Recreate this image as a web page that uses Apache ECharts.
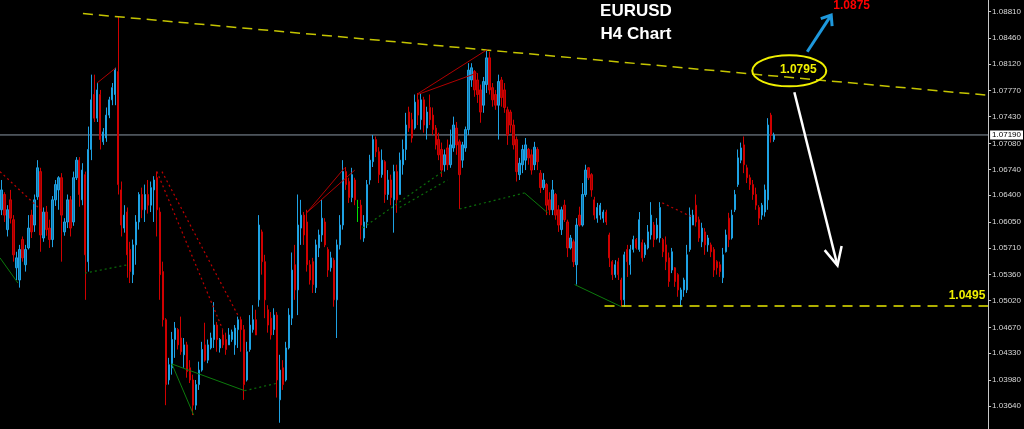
<!DOCTYPE html>
<html><head><meta charset="utf-8">
<script src="https://cdn.jsdelivr.net/npm/echarts@6/dist/echarts.min.js"></script>
<style>html,body{margin:0;padding:0;background:#000;}#c{width:1024px;height:429px;}</style>
</head><body><div id="c"></div>
<script>
// ---------- data ----------
const slotCount = 330;               // bar slots across the plot (incl. empty right margin)
const priceMin = 1.03338, priceMax = 1.08958;
const tickValues = [1.08810,1.08460,1.08120,1.07770,1.07430,1.07080,1.06740,1.06400,1.06050,1.05710,1.05360,1.05020,1.04670,1.04330,1.03980,1.03640];
const bidPrice = 1.07190;
const supportPrice = 1.0495;
const supportLabel = '1.0495';
const resistLabel = '1.0795';
const targetLabel = '1.0875';
const titleLines = ['EURUSD', 'H4 Chart'];
// [open, close, low, high]
const candles = [
[1.0621,1.0647,1.0614,1.0660],[1.0641,1.0614,1.0605,1.0644],[1.0595,1.0621,1.0586,1.0627],[1.0634,1.0610,1.0603,1.0647],
[1.0608,1.0562,1.0553,1.0614],[1.0545,1.0558,1.0529,1.0566],[1.0529,1.0569,1.0519,1.0575],[1.0582,1.0558,1.0553,1.0586],
[1.0549,1.0569,1.0540,1.0575],[1.0571,1.0597,1.0569,1.0614],[1.0614,1.0592,1.0584,1.0621],[1.0601,1.0634,1.0592,1.0641],
[1.0638,1.0676,1.0634,1.0686],[1.0671,1.0588,1.0566,1.0676],[1.0584,1.0618,1.0579,1.0624],[1.0618,1.0595,1.0587,1.0626],
[1.0597,1.0582,1.0571,1.0608],[1.0582,1.0634,1.0572,1.0639],[1.0634,1.0654,1.0626,1.0660],[1.0647,1.0663,1.0621,1.0665],
[1.0663,1.0614,1.0553,1.0669],[1.0592,1.0605,1.0587,1.0610],[1.0605,1.0634,1.0597,1.0641],[1.0634,1.0597,1.0586,1.0639],
[1.0605,1.0663,1.0600,1.0671],[1.0663,1.0686,1.0660,1.0690],[1.0686,1.0641,1.0625,1.0690],[1.0634,1.0673,1.0627,1.0682],
[1.0667,1.0562,1.0503,1.0671],[1.0553,1.0700,1.0540,1.0730],[1.0700,1.0765,1.0686,1.0798],[1.0772,1.0741,1.0736,1.0798],
[1.0741,1.0778,1.0736,1.0787],[1.0772,1.0713,1.0700,1.0778],[1.0710,1.0723,1.0706,1.0728],[1.0715,1.0745,1.0710,1.0755],
[1.0745,1.0765,1.0741,1.0769],[1.0765,1.0781,1.0758,1.0787],[1.0772,1.0804,1.0758,1.0807],[1.0802,1.0654,1.0641,1.0874],
[1.0647,1.0601,1.0586,1.0658],[1.0597,1.0614,1.0591,1.0627],[1.0618,1.0562,1.0532,1.0624],[1.0569,1.0540,1.0525,1.0579],
[1.0536,1.0575,1.0525,1.0582],[1.0575,1.0605,1.0549,1.0614],[1.0605,1.0641,1.0595,1.0644],[1.0641,1.0621,1.0610,1.0650],
[1.0621,1.0641,1.0605,1.0654],[1.0641,1.0627,1.0616,1.0660],[1.0627,1.0650,1.0618,1.0658],[1.0647,1.0660,1.0605,1.0665],
[1.0663,1.0621,1.0586,1.0671],[1.0618,1.0536,1.0503,1.0624],[1.0540,1.0477,1.0468,1.0553],[1.0477,1.0392,1.0365,1.0479],
[1.0398,1.0418,1.0392,1.0427],[1.0414,1.0451,1.0405,1.0461],[1.0451,1.0466,1.0427,1.0474],[1.0464,1.0444,1.0438,1.0466],
[1.0453,1.0435,1.0431,1.0481],[1.0431,1.0444,1.0414,1.0453],[1.0444,1.0409,1.0401,1.0448],[1.0414,1.0398,1.0394,1.0424],
[1.0398,1.0365,1.0352,1.0405],[1.0365,1.0392,1.0359,1.0398],[1.0392,1.0411,1.0385,1.0422],[1.0411,1.0438,1.0409,1.0448],
[1.0444,1.0424,1.0422,1.0473],[1.0424,1.0444,1.0420,1.0451],[1.0440,1.0453,1.0438,1.0460],[1.0451,1.0470,1.0440,1.0500],
[1.0470,1.0451,1.0435,1.0474],[1.0440,1.0451,1.0434,1.0453],[1.0457,1.0444,1.0440,1.0464],[1.0451,1.0438,1.0431,1.0460],
[1.0444,1.0457,1.0444,1.0466],[1.0451,1.0461,1.0448,1.0464],[1.0444,1.0466,1.0431,1.0470],[1.0464,1.0477,1.0440,1.0481],
[1.0477,1.0464,1.0435,1.0481],[1.0464,1.0392,1.0372,1.0470],[1.0398,1.0435,1.0396,1.0448],[1.0438,1.0470,1.0435,1.0483],
[1.0464,1.0477,1.0460,1.0496],[1.0477,1.0457,1.0457,1.0490],[1.0503,1.0601,1.0494,1.0614],[1.0592,1.0553,1.0536,1.0595],
[1.0553,1.0503,1.0479,1.0562],[1.0490,1.0470,1.0460,1.0496],[1.0479,1.0457,1.0451,1.0487],[1.0464,1.0483,1.0457,1.0492],
[1.0483,1.0398,1.0375,1.0487],[1.0372,1.0411,1.0342,1.0431],[1.0414,1.0392,1.0385,1.0424],[1.0398,1.0440,1.0396,1.0448],
[1.0440,1.0483,1.0438,1.0492],[1.0479,1.0542,1.0470,1.0565],[1.0549,1.0516,1.0503,1.0575],[1.0516,1.0601,1.0483,1.0641],
[1.0597,1.0614,1.0575,1.0634],[1.0614,1.0588,1.0575,1.0618],[1.0605,1.0549,1.0540,1.0621],[1.0549,1.0529,1.0523,1.0555],
[1.0553,1.0523,1.0512,1.0558],[1.0519,1.0575,1.0512,1.0582],[1.0571,1.0588,1.0559,1.0595],[1.0588,1.0610,1.0579,1.0634],
[1.0605,1.0575,1.0572,1.0610],[1.0569,1.0542,1.0533,1.0572],[1.0545,1.0558,1.0540,1.0566],[1.0555,1.0503,1.0494,1.0558],
[1.0503,1.0575,1.0453,1.0582],[1.0575,1.0601,1.0569,1.0614],[1.0601,1.0671,1.0595,1.0686],[1.0671,1.0654,1.0647,1.0677],
[1.0658,1.0637,1.0630,1.0663],[1.0637,1.0667,1.0631,1.0676],[1.0660,1.0634,1.0627,1.0663],[1.0624,1.0624,1.0605,1.0634],
[1.0627,1.0601,1.0582,1.0634],[1.0584,1.0605,1.0579,1.0614],[1.0605,1.0654,1.0597,1.0660],[1.0660,1.0686,1.0654,1.0693],
[1.0684,1.0713,1.0677,1.0719],[1.0713,1.0697,1.0690,1.0717],[1.0697,1.0667,1.0656,1.0703],[1.0667,1.0686,1.0663,1.0700],
[1.0684,1.0641,1.0630,1.0686],[1.0641,1.0660,1.0634,1.0673],[1.0660,1.0637,1.0627,1.0667],[1.0634,1.0671,1.0591,1.0680],
[1.0671,1.0634,1.0617,1.0680],[1.0641,1.0686,1.0641,1.0696],[1.0680,1.0700,1.0667,1.0713],[1.0700,1.0732,1.0686,1.0748],
[1.0749,1.0728,1.0723,1.0756],[1.0739,1.0715,1.0709,1.0748],[1.0728,1.0762,1.0726,1.0772],[1.0765,1.0745,1.0732,1.0774],
[1.0739,1.0765,1.0726,1.0774],[1.0765,1.0732,1.0722,1.0769],[1.0728,1.0749,1.0713,1.0756],[1.0755,1.0739,1.0732,1.0772],
[1.0745,1.0726,1.0719,1.0755],[1.0728,1.0706,1.0700,1.0732],[1.0713,1.0693,1.0686,1.0722],[1.0700,1.0673,1.0664,1.0709],
[1.0680,1.0693,1.0671,1.0700],[1.0702,1.0680,1.0673,1.0713],[1.0680,1.0706,1.0676,1.0726],[1.0702,1.0732,1.0697,1.0743],
[1.0728,1.0706,1.0693,1.0736],[1.0710,1.0667,1.0622,1.0713],[1.0686,1.0706,1.0676,1.0710],[1.0702,1.0726,1.0697,1.0730],
[1.0726,1.0804,1.0719,1.0813],[1.0791,1.0807,1.0782,1.0813],[1.0802,1.0778,1.0769,1.0804],[1.0791,1.0772,1.0761,1.0800],
[1.0778,1.0749,1.0735,1.0785],[1.0758,1.0789,1.0748,1.0795],[1.0785,1.0820,1.0774,1.0831],[1.0820,1.0778,1.0772,1.0828],
[1.0781,1.0765,1.0756,1.0787],[1.0772,1.0758,1.0752,1.0778],[1.0758,1.0789,1.0713,1.0798],[1.0791,1.0768,1.0756,1.0795],
[1.0778,1.0755,1.0748,1.0787],[1.0752,1.0719,1.0706,1.0756],[1.0749,1.0732,1.0722,1.0752],[1.0732,1.0706,1.0700,1.0739],
[1.0713,1.0671,1.0658,1.0717],[1.0667,1.0682,1.0660,1.0689],[1.0680,1.0700,1.0669,1.0706],[1.0686,1.0706,1.0673,1.0715],
[1.0700,1.0689,1.0680,1.0702],[1.0693,1.0673,1.0667,1.0700],[1.0680,1.0703,1.0673,1.0710],[1.0700,1.0684,1.0673,1.0703],
[1.0669,1.0650,1.0643,1.0673],[1.0650,1.0660,1.0647,1.0669],[1.0654,1.0627,1.0614,1.0656],[1.0634,1.0621,1.0614,1.0644],
[1.0621,1.0647,1.0614,1.0660],[1.0641,1.0614,1.0608,1.0643],[1.0621,1.0601,1.0592,1.0627],[1.0595,1.0621,1.0588,1.0625],
[1.0627,1.0608,1.0605,1.0634],[1.0605,1.0571,1.0559,1.0608],[1.0571,1.0584,1.0569,1.0588],[1.0579,1.0553,1.0546,1.0582],
[1.0549,1.0601,1.0523,1.0610],[1.0614,1.0601,1.0599,1.0625],[1.0601,1.0641,1.0599,1.0656],[1.0641,1.0673,1.0638,1.0680],
[1.0676,1.0663,1.0660,1.0677],[1.0667,1.0647,1.0638,1.0669],[1.0634,1.0614,1.0608,1.0638],[1.0610,1.0624,1.0604,1.0630],
[1.0614,1.0627,1.0608,1.0630],[1.0610,1.0618,1.0604,1.0621],[1.0618,1.0605,1.0601,1.0621],[1.0588,1.0558,1.0546,1.0591],
[1.0553,1.0536,1.0529,1.0555],[1.0536,1.0549,1.0532,1.0555],[1.0553,1.0536,1.0529,1.0558],[1.0529,1.0503,1.0494,1.0532],
[1.0503,1.0562,1.0494,1.0566],[1.0569,1.0553,1.0533,1.0575],[1.0549,1.0569,1.0536,1.0575],[1.0569,1.0582,1.0565,1.0587],
[1.0582,1.0571,1.0569,1.0584],[1.0569,1.0608,1.0566,1.0618],[1.0578,1.0558,1.0553,1.0582],[1.0562,1.0575,1.0558,1.0578],
[1.0571,1.0592,1.0569,1.0601],[1.0588,1.0614,1.0582,1.0631],[1.0601,1.0582,1.0572,1.0605],[1.0584,1.0601,1.0582,1.0610],
[1.0584,1.0624,1.0578,1.0631],[1.0582,1.0566,1.0559,1.0584],[1.0575,1.0553,1.0542,1.0586],[1.0558,1.0527,1.0520,1.0565],
[1.0542,1.0566,1.0538,1.0571],[1.0545,1.0527,1.0520,1.0546],[1.0536,1.0516,1.0507,1.0538],[1.0503,1.0516,1.0494,1.0519],
[1.0516,1.0529,1.0507,1.0532],[1.0516,1.0562,1.0512,1.0575],[1.0569,1.0614,1.0566,1.0624],[1.0601,1.0614,1.0601,1.0621],
[1.0627,1.0605,1.0599,1.0641],[1.0608,1.0584,1.0579,1.0612],[1.0579,1.0597,1.0572,1.0604],[1.0592,1.0575,1.0562,1.0597],
[1.0575,1.0584,1.0566,1.0588],[1.0575,1.0566,1.0559,1.0578],[1.0569,1.0542,1.0533,1.0572],[1.0553,1.0545,1.0536,1.0555],
[1.0549,1.0540,1.0533,1.0553],[1.0532,1.0562,1.0525,1.0571],[1.0566,1.0588,1.0565,1.0595],[1.0610,1.0582,1.0572,1.0617],
[1.0584,1.0614,1.0582,1.0621],[1.0621,1.0641,1.0618,1.0647],[1.0654,1.0689,1.0651,1.0700],[1.0686,1.0702,1.0682,1.0709],
[1.0706,1.0680,1.0669,1.0717],[1.0676,1.0663,1.0656,1.0680],[1.0663,1.0654,1.0647,1.0667],[1.0654,1.0641,1.0634,1.0660],
[1.0641,1.0627,1.0621,1.0650],[1.0624,1.0610,1.0601,1.0627],[1.0614,1.0627,1.0608,1.0630],[1.0618,1.0647,1.0612,1.0654],
[1.0634,1.0732,1.0621,1.0741],[1.0745,1.0719,1.0709,1.0748],[1.0713,1.0719,1.0710,1.0722]
];
const dojiIndices = [119];
// overlays in (bar index, price)
const trendLine = [[27.2, 1.0878], [329.5, 1.0771]];
const supportFrom = 201.4, supportTo = 329.5;
const zigRedSolid = [
  [[31.9,1.0787],[38.2,1.0807]], [[101.9,1.0617],[114.6,1.0676]], [[101.9,1.0617],[118.0,1.0673]],
  [[139.0,1.0773],[162.3,1.0831]], [[139.0,1.0772],[158.7,1.0800]]
];
const zigRedDotted = [
  [[-0.5,1.0671],[14.2,1.0617]], [[51.9,1.0671],[73.9,1.0464]], [[53.6,1.0671],[79.2,1.0481]], [[220.7,1.0630],[230.4,1.0612]]
];
const zigGreenSolid = [
  [[-0.5,1.0558],[5.5,1.0525]], [[56.9,1.0419],[64.2,1.0352]], [[56.9,1.0419],[81.2,1.0384]],
  [[174.7,1.0643],[182.4,1.0617]], [[191.4,1.0523],[207.0,1.0494]]
];
const zigGreenDotted = [
  [[27.9,1.0538],[42.2,1.0549]], [[81.2,1.0384],[92.3,1.0394]], [[120.6,1.0597],[147.3,1.0671]],
  [[133.0,1.0624],[149.0,1.0660]], [[153.0,1.0622],[174.7,1.0643]]
];
const ellipseCenter = [263.1, 1.0803];
const resistText = [266.1, 1.0804];
const blueArrow = [[269.1, 1.0828], [277.1, 1.0876]];
const targetText = [277.8, 1.0889];
const whiteArrow = [[264.8, 1.0775], [279.2, 1.0548]];
const supportText = [328.6, 1.0508];

// ---------- chart ----------
const categories = Array.from({length: slotCount}, (_, i) => String(i));
const chart = echarts.init(document.getElementById('c'), null, {renderer: 'canvas'});

const candleData = candles.map((c, i) => dojiIndices.includes(i)
  ? {value: c, itemStyle: {color: '#00e000', borderColor: '#00e000', color0: '#00e000', borderColor0: '#00e000'}}
  : c);

function segSeries(segs, color, type, width) {
  return segs.map(s => ({
    type: 'line', xAxisIndex: 1, yAxisIndex: 0, data: s, symbol: 'none', silent: true,
    lineStyle: {color: color, type: type, width: width}, z: 3, animation: false
  }));
}

const series = [
  {
    type: 'line', xAxisIndex: 1, yAxisIndex: 0, data: [[-0.5, bidPrice], [slotCount - 0.5, bidPrice]],
    symbol: 'none', silent: true, z: 1, animation: false,
    lineStyle: {color: '#8a97a4', width: 1, type: 'solid'},
    endLabel: {show: true, distance: 2, formatter: () => bidPrice.toFixed(5),
      backgroundColor: '#ffffff', color: '#000000', fontSize: 8, fontFamily: 'Liberation Sans',
      padding: [1, 2, 0, 2]}
  },
  {
    type: 'candlestick', xAxisIndex: 0, yAxisIndex: 0, data: candleData, barWidth: 1.8,
    itemStyle: {color: '#137aad', color0: '#a00000', borderColor: '#1ea2e4', borderColor0: '#d00000', borderWidth: 1},
    z: 2, animation: false
  },
  {
    type: 'line', xAxisIndex: 1, yAxisIndex: 0, data: trendLine, symbol: 'none', silent: true,
    lineStyle: {color: '#c4c400', type: [10, 6], width: 1.5}, z: 3, animation: false
  },
  {
    type: 'line', xAxisIndex: 1, yAxisIndex: 0, data: [[supportFrom, supportPrice], [supportTo, supportPrice]],
    symbol: 'none', silent: true, lineStyle: {color: '#e8e800', type: [10, 7], width: 1.5}, z: 3, animation: false
  },
  ...segSeries(zigRedSolid, '#b00000', 'solid', 1),
  ...segSeries(zigRedDotted, '#c00000', [2, 3], 1.2),
  ...segSeries(zigGreenSolid, '#0c7a0c', 'solid', 1),
  ...segSeries(zigGreenDotted, '#0b700b', [2, 3], 1.2)
];

chart.setOption({
  backgroundColor: '#000000',
  animation: false,
  grid: {left: 0, right: 35, top: 0, bottom: 0, containLabel: false},
  xAxis: [
    {type: 'category', data: categories, boundaryGap: true, show: false},
    {type: 'value', min: -0.5, max: slotCount - 0.5, show: false}
  ],
  yAxis: {
    type: 'value', position: 'right', min: priceMin, max: priceMax, scale: true,
    axisLine: {show: true, onZero: false, lineStyle: {color: '#c8c8c8', width: 1}},
    axisTick: {show: true, length: 3, inside: false, customValues: tickValues, lineStyle: {color: '#c8c8c8'}},
    axisLabel: {show: true, customValues: tickValues, formatter: v => v.toFixed(5), color: '#d8d8d8',
      fontSize: 8, fontFamily: 'Liberation Sans', margin: 4},
    splitLine: {show: false}
  },
  series: series
});

function px(p) { return chart.convertToPixel({xAxisIndex: 1, yAxisIndex: 0}, p); }
function chevron(tip, tail, len, angDeg) {
  const dx = tail[0] - tip[0], dy = tail[1] - tip[1];
  const d = Math.hypot(dx, dy), ux = dx / d, uy = dy / d;
  const a = angDeg * Math.PI / 180;
  const r = (s) => [tip[0] + len * (ux * Math.cos(s) - uy * Math.sin(s)), tip[1] + len * (ux * Math.sin(s) + uy * Math.cos(s))];
  return [r(a), tip, r(-a)];
}

const ec = px(ellipseCenter), rt = px(resistText), tt = px(targetText), st = px(supportText);
const ba0 = px(blueArrow[0]), ba1 = px(blueArrow[1]);
const wa0 = px(whiteArrow[0]), wa1 = px(whiteArrow[1]);

chart.setOption({
  graphic: [
    {type: 'text', x: 636, y: 11, z: 10, style: {text: titleLines[0], fill: '#ffffff', font: 'bold 17px "Liberation Sans", Arial, sans-serif', textAlign: 'center', textVerticalAlign: 'middle'}},
    {type: 'text', x: 636, y: 34, z: 10, style: {text: titleLines[1], fill: '#ffffff', font: 'bold 17px "Liberation Sans", Arial, sans-serif', textAlign: 'center', textVerticalAlign: 'middle'}},
    {type: 'ellipse', z: 10, shape: {cx: ec[0], cy: ec[1], rx: 37, ry: 15.5}, style: {fill: null, stroke: '#f0f000', lineWidth: 2}},
    {type: 'text', x: rt[0], y: rt[1], z: 11, style: {text: resistLabel, fill: '#f0f000', font: 'bold 12px "Liberation Sans", Arial, sans-serif', textAlign: 'center', textVerticalAlign: 'middle'}},
    {type: 'text', x: tt[0], y: tt[1], z: 11, style: {text: targetLabel, fill: '#ff0000', font: 'bold 12px "Liberation Sans", Arial, sans-serif', textAlign: 'left', textVerticalAlign: 'middle'}},
    {type: 'text', x: st[0], y: st[1], z: 11, style: {text: supportLabel, fill: '#f0f000', font: 'bold 12px "Liberation Sans", Arial, sans-serif', textAlign: 'right', textVerticalAlign: 'middle'}},
    {type: 'line', z: 10, shape: {x1: ba0[0], y1: ba0[1], x2: ba1[0], y2: ba1[1]}, style: {stroke: '#1e98dc', lineWidth: 3}},
    {type: 'polyline', z: 10, shape: {points: chevron(ba1, ba0, 11, 38)}, style: {stroke: '#1e98dc', lineWidth: 3, fill: null}},
    {type: 'line', z: 10, shape: {x1: wa0[0], y1: wa0[1], x2: wa1[0], y2: wa1[1]}, style: {stroke: '#ffffff', lineWidth: 2.5}},
    {type: 'polyline', z: 10, shape: {points: chevron(wa1, wa0, 20, 26)}, style: {stroke: '#ffffff', lineWidth: 2.5, fill: null}}
  ]
});
</script>
</body></html>
